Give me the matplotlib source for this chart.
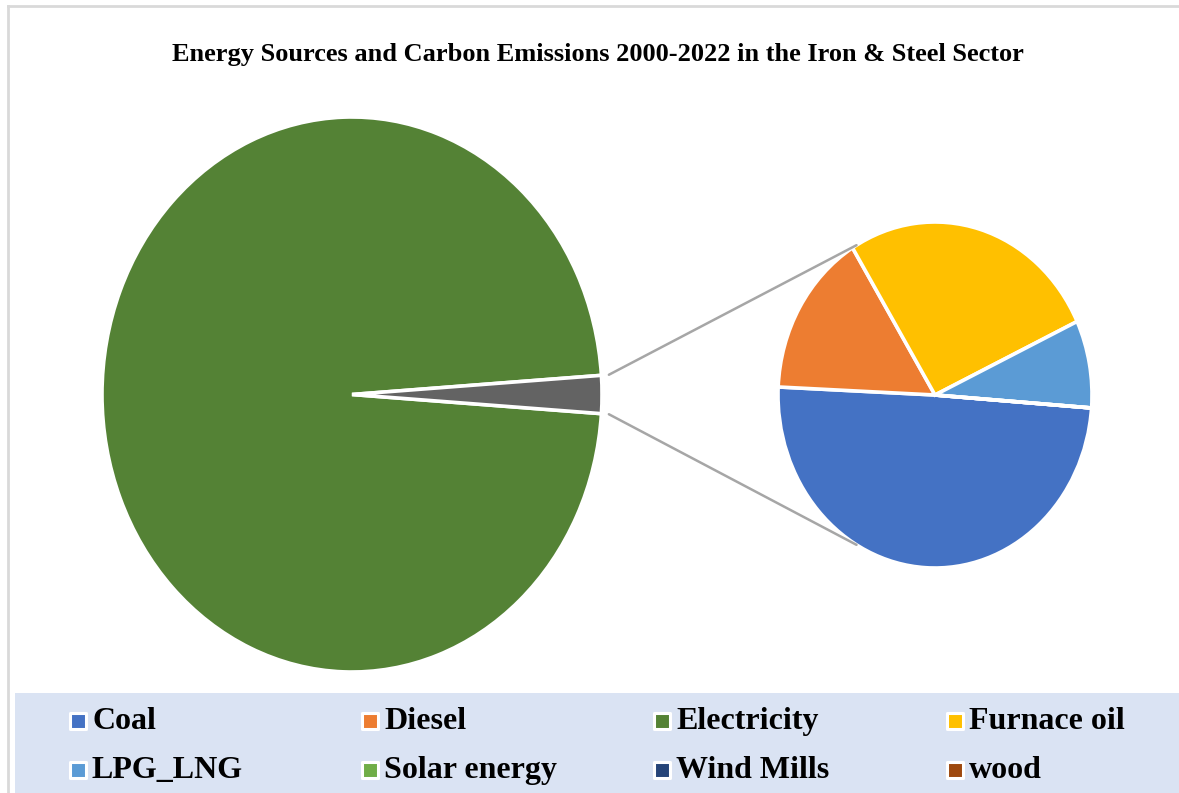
import matplotlib
matplotlib.use("Agg")
import matplotlib.pyplot as plt
from matplotlib.patches import ConnectionPatch
from matplotlib.lines import Line2D
import numpy as np

# energy use shares in the iron & steel sector, 2000-2022 (% of total)
electricity = 97.8
small_labels = ["Coal", "Diesel", "Furnace oil", "LPG_LNG", "Solar energy", "Wind Mills", "wood"]
small_values = [1.09, 0.34, 0.59, 0.18, 0.0, 0.0, 0.0]

legend_labels = ["Coal", "Diesel", "Electricity", "Furnace oil",
                 "LPG_LNG", "Solar energy", "Wind Mills", "wood"]
palette = {"Coal": "#4472C4", "Diesel": "#ED7D31", "Electricity": "#548235",
           "Furnace oil": "#FFC000", "LPG_LNG": "#5B9BD5", "Solar energy": "#70AD47",
           "Wind Mills": "#264478", "wood": "#9E480E"}
other_color = "#636363"

W, H = 1179, 793
fig = plt.figure(figsize=(W / 100, H / 100), dpi=100)
fig.patch.set_facecolor("white")
serif = "Liberation Serif"


def box(left, top, right, bottom):
    # pixel box -> figure fraction rect
    return [left / W, 1 - bottom / H, (right - left) / W, (bottom - top) / H]


# main pie: electricity vs. everything else
other = sum(small_values)
theta = other / (electricity + other) * 360
ax1 = fig.add_axes(box(102, 117, 602, 672))
ax1.pie([electricity, other], colors=[palette["Electricity"], other_color],
        startangle=theta / 2, counterclock=True, radius=1,
        wedgeprops=dict(edgecolor="white", linewidth=2.6, clip_on=False))
ax1.set_aspect("auto")
ax1.set_xlim(-1, 1)
ax1.set_ylim(-1, 1)
ax1.axis("off")

# secondary pie: breakdown of the small sources
ax2 = fig.add_axes(box(778, 222, 1092, 568))
ax2.pie(small_values, colors=[palette[l] for l in small_labels],
        startangle=-4.3, counterclock=False, radius=1,
        wedgeprops=dict(edgecolor="white", linewidth=2.6, clip_on=False))
ax2.set_aspect("auto")
ax2.set_xlim(-1, 1)
ax2.set_ylim(-1, 1)
ax2.axis("off")

# connector lines between the two pies
half = np.radians(theta / 2)
for sign in (1, -1):
    con = ConnectionPatch(xyA=(1.03 * np.cos(half), sign * 1.03 * np.sin(half)), coordsA=ax1.transData,
                          xyB=(np.cos(np.radians(120)), sign * np.sin(np.radians(120))), coordsB=ax2.transData,
                          color="#A6A6A6", linewidth=1.8)
    fig.add_artist(con)

fig.text(598 / W, 1 - 54 / H,
         "Energy Sources and Carbon Emissions 2000-2022 in the Iron & Steel Sector",
         ha="center", va="center", fontsize=19, fontweight="bold", family=serif)

# legend band
lax = fig.add_axes(box(15, 693, W, H))
lax.set_facecolor("#DAE3F3")
lax.set_xlim(15, W)
lax.set_ylim(H, 693)
lax.set_xticks([])
lax.set_yticks([])
for s in lax.spines.values():
    s.set_visible(False)

col_x = [78, 370, 662, 955]
row_y = [721, 770]
for i, name in enumerate(legend_labels):
    x = col_x[i % 4]
    y = row_y[i // 4]
    lax.scatter([x], [y], marker="s", s=120, color=palette[name],
                edgecolors="white", linewidths=2.2, clip_on=False)
    lax.text(x + 14, y + 1, name, ha="left", va="center", fontsize=23,
             fontweight="bold", family=serif)

# outer frame
fig.add_artist(Line2D([8 / W, 8 / W], [0, 1 - 6 / H], color="#D9D9D9", linewidth=2))
fig.add_artist(Line2D([8 / W, 1], [1 - 6 / H, 1 - 6 / H], color="#D9D9D9", linewidth=2))

fig.savefig("out.png", dpi=100)
